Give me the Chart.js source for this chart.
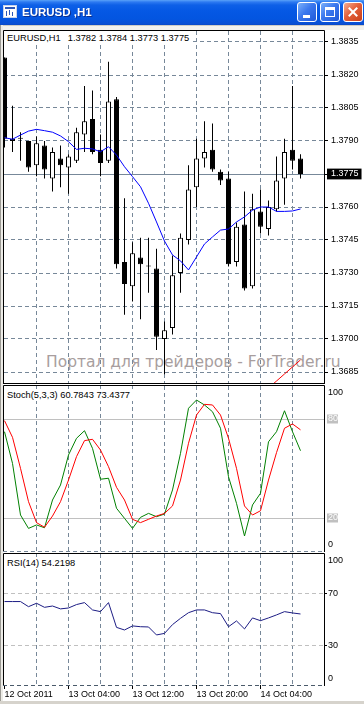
<!DOCTYPE html>
<html lang="ru">
<head>
<meta charset="utf-8">
<title>EURUSD,H1</title>
<script src="https://cdn.jsdelivr.net/npm/chart.js@4.4.1/dist/chart.umd.min.js"></script>
<style>
  html, body { margin:0; padding:0; }
  body { width:364px; height:704px; position:relative; overflow:hidden; background:#fff;
         font-family:'Liberation Sans', Arial, sans-serif; }
  .abs { position:absolute; }
  canvas.panel { position:absolute; left:0; top:0; z-index:1; }
  #titlebar { left:0; top:0; width:364px; height:25px; z-index:5;
    background: linear-gradient(to bottom, #5aa2f8 0px, #2d7af1 2px, #0e60e7 5px, #0558e4 11px, #0355e0 19px, #0a4fd3 24px, #0847c4 25px); }
  #titletext { left:22px; top:4px; color:#fff; font-weight:bold; font-size:11.5px; line-height:17px;
    text-shadow: 1px 1px 0 #0b2f8f; white-space:pre; }
  #icon { left:3px; top:5px; width:14px; height:13px; background:#fff; border:1px solid #c8d4ea; box-sizing:border-box; }
  #icon i { position:absolute; background:#2c58b8; }
  .btn { top:2px; width:20px; height:20px; box-sizing:border-box; border:1px solid #fff; border-radius:3px;
    background: linear-gradient(135deg, #7bb0fa 0%, #3a78ee 45%, #1f58d8 100%); }
  .btn.close { background: linear-gradient(135deg, #f4ad92 0%, #e4603a 45%, #c9401a 100%); }
  .glyph { position:absolute; background:#fff; }
  #frameTop { left:0; top:25px; width:364px; height:5px; z-index:4;
    background: linear-gradient(to bottom, #d0cdc5 0, #d0cdc5 1px, #f3f2ee 1px); }
  #frameLeft { left:0; top:25px; width:3px; height:679px; z-index:4;
    background: linear-gradient(to right, #9c9a94 0, #9c9a94 1px, #ecebe6 1px); }
  #frameBottom { left:0; top:701px; width:364px; height:3px; z-index:4; background:#d6d3cc; }
  .plabel { z-index:3; background:#fff; color:#000; font-size:9.3px; line-height:11px; white-space:pre; }
  #watermark { left:46px; top:354px; z-index:0; color:rgb(168,158,158); font-family:'DejaVu Sans', Verdana, sans-serif;
    font-size:15.5px; line-height:16px; white-space:pre; }
</style>
</head>
<body>
<div id="titlebar" class="abs">
  <div id="icon" class="abs"><i style="left:1px;top:1px;width:10px;height:2px"></i><i style="left:2px;top:5px;width:1px;height:5px"></i><i style="left:5px;top:4px;width:1px;height:5px"></i><i style="left:8px;top:6px;width:1px;height:4px"></i></div>
  <div id="titletext" class="abs"></div>
  <div class="abs btn" style="left:297px"><div class="glyph" style="left:5px;top:12px;width:7px;height:3px"></div></div>
  <div class="abs btn" style="left:320px"><div class="glyph" style="left:4px;top:4px;width:10px;height:10px;background:transparent;border:1px solid #fff;border-top-width:3px;box-sizing:border-box"></div></div>
  <div class="abs btn close" style="left:343px">
    <div class="glyph" style="left:3px;top:8px;width:12px;height:2px;transform:rotate(45deg)"></div>
    <div class="glyph" style="left:3px;top:8px;width:12px;height:2px;transform:rotate(-45deg)"></div>
  </div>
</div>
<div id="frameTop" class="abs"></div>
<div id="frameLeft" class="abs"></div>
<div id="frameBottom" class="abs"></div>
<div id="watermark" class="abs"></div>
<canvas id="cPrice" class="panel" width="364" height="704"></canvas>
<canvas id="cStoch" class="panel" width="364" height="704"></canvas>
<canvas id="cRsi" class="panel" width="364" height="704"></canvas>
<div id="hdrPrice" class="abs plabel" style="left:4px;top:31px;padding:2px 3px 0 3px;height:10px"></div>
<div id="hdrStoch" class="abs plabel" style="left:4px;top:389px;padding:1px 3px 0 3px;height:11px"></div>
<div id="hdrRsi" class="abs plabel" style="left:4px;top:557px;padding:1px 3px 0 3px;height:11px"></div>
<script>
// ---------------- data ----------------
const symbol = 'EURUSD';
const timeframe = 'H1';
const opens  = [1.3828, 1.3791, 1.3791, 1.3790, 1.3779, 1.3788, 1.3773, 1.3782, 1.3778, 1.3781,
                1.3793, 1.3800, 1.3786, 1.3781, 1.3809, 1.3735, 1.3724, 1.3737, 1.3733, 1.3732,
                1.3700, 1.3705, 1.3730, 1.3745, 1.3769, 1.3782, 1.3786, 1.3776, 1.3773, 1.3735,
                1.3752, 1.3724, 1.3758, 1.3750, 1.3759, 1.3773, 1.3786, 1.3782];
const highs  = [1.3828, 1.3806, 1.3794, 1.3790, 1.3792, 1.3790, 1.3787, 1.3788, 1.3784, 1.3796,
                1.3815, 1.3813, 1.3793, 1.3826, 1.3810, 1.3764, 1.3744, 1.3746, 1.3746, 1.3741,
                1.3708, 1.3738, 1.3748, 1.3779, 1.3791, 1.3799, 1.3798, 1.3777, 1.3776, 1.3753,
                1.3767, 1.3766, 1.3768, 1.3763, 1.3783, 1.3791, 1.3815, 1.3784];
const lows   = [1.3787, 1.3785, 1.3781, 1.3776, 1.3774, 1.3773, 1.3767, 1.3769, 1.3766, 1.3780,
                1.3785, 1.3784, 1.3774, 1.3780, 1.3732, 1.3711, 1.3717, 1.3709, 1.3721, 1.3695,
                1.3684, 1.3702, 1.3721, 1.3743, 1.3760, 1.3778, 1.3776, 1.3770, 1.3733, 1.3733,
                1.3722, 1.3723, 1.3748, 1.3747, 1.3758, 1.3761, 1.3777, 1.3773];
const closes = [1.3791, 1.3790, 1.3791, 1.3778, 1.3789, 1.3777, 1.3785, 1.3779, 1.3783, 1.3794,
                1.3799, 1.3785, 1.3780, 1.3808, 1.3734, 1.3725, 1.3739, 1.3734, 1.3733, 1.3701,
                1.3704, 1.3729, 1.3746, 1.3768, 1.3782, 1.3785, 1.3777, 1.3772, 1.3734, 1.3751,
                1.3723, 1.3759, 1.3751, 1.3760, 1.3772, 1.3785, 1.3781, 1.3775];
const maValues = [1.37915, 1.37908, 1.37927, 1.37945, 1.37953, 1.37947, 1.37940, 1.37923, 1.37897, 1.37862,
                  1.37867, 1.37864, 1.37851, 1.37874, 1.37836, 1.37783, 1.37738, 1.37692, 1.37617, 1.37532,
                  1.37445, 1.37382, 1.37355, 1.37314, 1.37373, 1.37432, 1.37464, 1.37495, 1.37500, 1.37532,
                  1.37555, 1.37586, 1.37600, 1.37600, 1.37580, 1.37580, 1.37582, 1.37591];
const redLineBars   = [33, 34, 35, 36, 37];
const redLineValues = [1.36777, 1.36809, 1.36841, 1.36873, 1.36905];
const stochMain   = [72.3, 53.1, 21.8, 13.7, 15.8, 14.1, 30.9, 40.0, 58.2, 68.3,
                     72.9, 62.2, 43.5, 44.1, 25.9, 19.8, 13.7, 20.4, 22.8, 20.8,
                     22.4, 37.0, 59.2, 86.5, 91.5, 88.5, 84.4, 74.4, 45.0, 28.9,
                     9.1, 27.9, 35.0, 66.2, 72.3, 85.0, 72.3, 60.7843];
const stochSignal = [79.0, 68.9, 50.1, 29.9, 17.2, 14.4, 21.2, 29.9, 43.0, 57.2,
                     66.9, 67.7, 61.2, 51.1, 38.6, 30.9, 19.2, 17.2, 19.2, 21.2,
                     22.8, 27.3, 43.0, 65.3, 82.4, 88.9, 88.5, 82.4, 68.3, 50.1,
                     27.3, 21.8, 24.4, 43.0, 59.6, 74.4, 77.0, 73.4377];
const rsiValues = [63.7, 63.7, 63.7, 59.8, 62.4, 59.3, 60.3, 58.1, 58.8, 61.4,
                   62.9, 57.3, 56.0, 62.9, 44.0, 42.0, 45.1, 44.5, 44.3, 38.2,
                   39.4, 46.1, 50.9, 55.2, 57.3, 57.3, 55.2, 54.5, 44.5, 48.9,
                   42.8, 51.2, 49.1, 51.2, 53.5, 56.0, 55.0, 54.2198];
const priceTicks = [1.3835, 1.3820, 1.3805, 1.3790, 1.3775, 1.3760, 1.3745, 1.3730, 1.3715, 1.3700, 1.3685];
const stochTicks = [100, 80, 20, 0];
const stochLevels = [80, 20];
const rsiTicks = [100, 70, 30, 0];
const rsiLevels = [70, 30];
const gridBars = [4, 8, 12, 16, 20, 24, 28, 32, 36];
const timeLabelBars = [0, 8, 16, 24, 32];
const timeLabels = ['12 Oct 2011', '13 Oct 04:00', '13 Oct 12:00', '13 Oct 20:00', '14 Oct 04:00'];
const stochParams = [5, 3, 3];
const rsiPeriod = 14;
const watermarkText = 'Портал для трейдеров - ForTrader.ru';

// ---------------- text ----------------
const last = closes.length - 1;
const f4 = v => v.toFixed(4);
document.getElementById('titletext').textContent = symbol + ' ,' + timeframe;
document.getElementById('hdrPrice').innerHTML = symbol + ',' + timeframe +
  '<span style="margin-left:7px">' + [opens[last], highs[last], lows[last], closes[last]].map(f4).join(' ') + '</span>';
document.getElementById('hdrStoch').textContent = 'Stoch(' + stochParams.join(',') + ') ' +
  f4(stochMain[last]) + ' ' + f4(stochSignal[last]);
document.getElementById('hdrRsi').textContent = 'RSI(' + rsiPeriod + ') ' + f4(rsiValues[last]);
document.getElementById('watermark').textContent = watermarkText;

// ---------------- chart helpers ----------------
const FONT = "'Liberation Sans', Arial, sans-serif";
Chart.defaults.font.family = FONT;
Chart.defaults.font.size = 9;
Chart.defaults.color = '#000';
const GRID = '#778899';
const LEVEL = '#c0c0c0';
const DASH = [4, 3];
const CLEAR = 'rgba(0,0,0,0)';
const X_MIN = -0.0625, X_MAX = 39.9375;
const CANVAS_H = 704;

const boxPlugin = {
  id: 'panelBox',
  afterDraw(chart, args, opts) {
    const { ctx, chartArea: a } = chart;
    ctx.save();
    ctx.lineWidth = 1;
    ctx.strokeStyle = '#000';
    ctx.beginPath();
    ctx.moveTo(a.left - 0.5, a.bottom + 1);
    ctx.lineTo(a.left - 0.5, a.top - 0.5);
    ctx.lineTo(a.right + 0.5, a.top - 0.5);
    ctx.lineTo(a.right + 0.5, a.bottom + 1);
    ctx.stroke();
    ctx.beginPath();
    if (opts.bottomDash) { ctx.strokeStyle = opts.bottomColor || GRID; ctx.setLineDash(DASH); }
    ctx.moveTo(a.left - 1, a.bottom + 0.5);
    ctx.lineTo(a.right + 1, a.bottom + 0.5);
    ctx.stroke();
    ctx.restore();
  }
};

function xScale(withLabels) {
  const tickBars = withLabels ? [0].concat(gridBars) : gridBars;
  return {
    type: 'linear', min: X_MIN, max: X_MAX, offset: false,
    afterBuildTicks: s => { s.ticks = tickBars.map(v => ({ value: v })); },
    afterFit: s => { s.height = withLabels ? 19 : 0; },
    grid: {
      offset: false, lineWidth: 1, drawTicks: withLabels, tickLength: 4,
      color: c => (c.tick && gridBars.includes(c.tick.value)) ? GRID : CLEAR,
      tickColor: c => (c.tick && timeLabelBars.includes(c.tick.value)) ? '#000' : CLEAR
    },
    border: { display: false, dash: DASH },
    ticks: {
      display: withLabels, autoSkip: false, maxRotation: 0, minRotation: 0, align: 'start', padding: 0,
      callback: v => { const k = timeLabelBars.indexOf(v); return k >= 0 ? timeLabels[k] : ''; }
    }
  };
}

function edgeLabel(v, top, bottom) {
  if (v === top) return ['', String(v)];
  if (v === bottom) return [String(v), ''];
  return String(v);
}

function oscScale(ticks, levels, dashed, levelTickColor, levelLabelBox) {
  const isLevel = c => c.tick && levels.includes(c.tick.value);
  return {
    type: 'linear', position: 'right', min: 0, max: 100,
    afterBuildTicks: s => { s.ticks = ticks.map(v => ({ value: v })); },
    afterFit: s => { s.width = 40; },
    grid: {
      lineWidth: 1, drawTicks: true, tickLength: 3,
      color: c => isLevel(c) ? LEVEL : CLEAR,
      tickColor: c => isLevel(c) ? levelTickColor : CLEAR
    },
    border: { display: false, dash: dashed ? DASH : [] },
    ticks: {
      padding: 1,
      callback: v => edgeLabel(v, 100, 0),
      color: c => (levelLabelBox && isLevel(c)) ? '#fff' : '#000',
      showLabelBackdrop: c => !!(levelLabelBox && isLevel(c)),
      backdropColor: LEVEL,
      backdropPadding: { left: 1, right: 0, top: 0, bottom: 0 },
      font: c => ({ family: FONT, size: 9, lineHeight: isLevel(c) ? 1 : 1.5 })
    }
  };
}

function lineSet(values, color, order) {
  return {
    type: 'line', data: values.map((v, i) => ({ x: i, y: v })),
    borderColor: color, borderWidth: 1, pointRadius: 0, tension: 0, fill: false, order
  };
}

function makeChart(id, top, bottom, datasets, yScale, withLabels, boxOpts) {
  return new Chart(document.getElementById(id), {
    type: 'line',
    data: { datasets },
    options: {
      responsive: false, animation: false, devicePixelRatio: 1, events: [],
      layout: { padding: { left: 4, right: 0, top: top, bottom: withLabels ? CANVAS_H - bottom - 19 : CANVAS_H - bottom } },
      plugins: { legend: { display: false }, tooltip: { enabled: false }, panelBox: boxOpts },
      scales: { x: xScale(withLabels), y: yScale }
    },
    plugins: [boxPlugin]
  });
}

// ---------------- price panel ----------------
const isBid = c => c.tick && Math.abs(c.tick.value - closes[last]) < 1e-9;
makeChart('cPrice', 31, 383, [
  {
    type: 'bar', data: lows.map((l, i) => ({ x: i, y: [l, highs[i]] })),
    backgroundColor: '#000', borderWidth: 0, barThickness: 1, grouped: false, inflateAmount: 0, order: 3
  },
  {
    type: 'bar', data: opens.map((o, i) => ({ x: i, y: [o, closes[i]] })),
    backgroundColor: c => (c.dataIndex !== undefined && closes[c.dataIndex] > opens[c.dataIndex]) ? '#fff' : '#000',
    borderColor: '#000', borderWidth: 1, borderSkipped: false, barThickness: 5, grouped: false,
    minBarLength: 1, inflateAmount: 0, order: 2
  },
  lineSet(maValues, '#0000ff', 1),
  {
    type: 'line', data: redLineBars.map((b, k) => ({ x: b, y: redLineValues[k] })),
    borderColor: '#ff0000', borderWidth: 1, pointRadius: 0, tension: 0, fill: false, order: 1
  }
], {
  type: 'linear', position: 'right', min: 1.3680, max: 1.3840,
  afterBuildTicks: s => { s.ticks = priceTicks.map(v => ({ value: v })); },
  afterFit: s => { s.width = 40; },
  grid: { lineWidth: 1, drawTicks: true, tickLength: 4, color: GRID, tickColor: '#000' },
  border: { display: false, dash: c => isBid(c) ? [] : DASH },
  ticks: {
    padding: 3,
    callback: v => v.toFixed(4),
    color: c => isBid(c) ? '#fff' : '#000',
    showLabelBackdrop: c => !!isBid(c),
    backdropColor: '#000',
    backdropPadding: { left: 4, right: 3, top: 0, bottom: 0 }
  }
}, false, { bottomDash: false });

// ---------------- stochastic panel ----------------
makeChart('cStoch', 386, 551, [
  lineSet(stochMain, '#008000', 2),
  lineSet(stochSignal, '#ff0000', 1)
], oscScale(stochTicks, stochLevels, false, CLEAR, true), false, { bottomDash: true });

// ---------------- RSI panel ----------------
makeChart('cRsi', 554, 685, [
  lineSet(rsiValues, '#1c1c84', 1)
], oscScale(rsiTicks, rsiLevels, true, '#000', false), true, { bottomDash: true, bottomColor: '#4a5a6a' });
</script>
</body>
</html>
